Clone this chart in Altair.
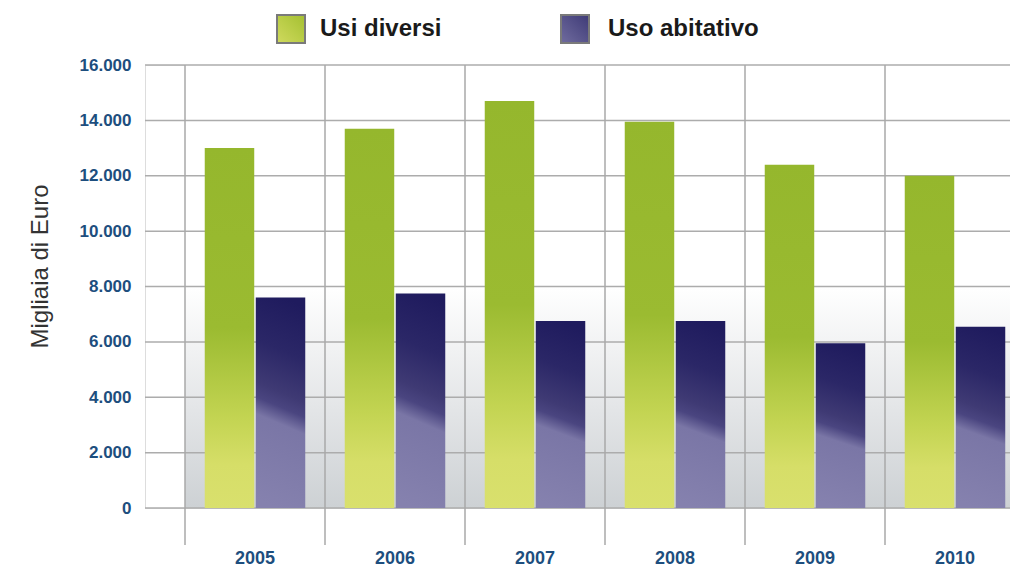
import altair as alt
import pandas as pd

# Canoni per anno (migliaia di euro)
years = ["2005", "2006", "2007", "2008", "2009", "2010"]
usi_diversi = [13000, 13700, 14700, 13950, 12400, 12000]
uso_abitativo = [7600, 7750, 6750, 6750, 5950, 6550]
series = ["Usi diversi", "Uso abitativo"]
y_ticks = [0, 2000, 4000, 6000, 8000, 10000, 12000, 14000, 16000]

FONT = "Liberation Sans"
W, H = 865, 443

bars = pd.DataFrame(
    [{"year": y, "series": series[0], "value": v} for y, v in zip(years, usi_diversi)]
    + [{"year": y, "series": series[1], "value": v} for y, v in zip(years, uso_abitativo)]
)
grid = pd.DataFrame({"value": y_ticks})
year_df = pd.DataFrame({"year": years})
legend_df = pd.DataFrame({"series": series})

x_scale = alt.Scale(domain=years, range=[40, 880], paddingInner=0, paddingOuter=0)
y_scale = alt.Scale(domain=[0, 16000], nice=False)

x_axis = alt.Axis(
    title=None, labelAngle=0, ticks=False, domain=False, grid=False,
    labelFont=FONT, labelFontSize=18, labelFontWeight="bold",
    labelColor="#1d4e7e", labelPadding=41,
)
y_axis = alt.Axis(
    values=y_ticks, ticks=False, domain=False, grid=False,
    labelExpr="replace(format(datum.value, ','), ',', '.')",
    labelFont=FONT, labelFontSize=17, labelFontWeight="bold",
    labelColor="#1d4e7e", labelPadding=14,
    title="Migliaia di Euro", titleFont=FONT, titleFontSize=24,
    titleFontWeight="normal", titleColor="#333333",
    titleX=-105, titleY=201, titleAlign="center", titleBaseline="middle",
)

x_enc = alt.X("year:N", scale=x_scale, axis=x_axis)
y_enc = alt.Y("value:Q", scale=y_scale, axis=y_axis)


def lin(stops, x1=0, y1=0, x2=0, y2=1):
    return alt.Gradient(
        gradient="linear",
        stops=[alt.GradientStop(color=c, offset=o) for o, c in stops],
        x1=x1, y1=y1, x2=x2, y2=y2,
    )


bg_fill = lin([(0, "#ffffff"), (0.5, "#ffffff"), (0.78, "#e3e5e7"), (1, "#cdd1d4")])
green_fill = lin([(0, "#95b72d"), (0.5, "#9bbb31"), (0.75, "#c3d452"),
                  (0.88, "#d6de68"), (1, "#d9e06d")])
purple_fill = lin([(0, "#1f1b5e"), (0.25, "#2b2767"), (0.45, "#3f3a74"),
                   (0.52, "#4a4580"), (0.6, "#7a76a6"), (1, "#8581ae")],
                  x1=0.55, y1=0, x2=0.45, y2=1)
green_key = lin([(0, "#a4c031"), (1, "#d0da5e")], x1=1, y1=0, x2=0, y2=1)
purple_key = lin([(0, "#3e3a77"), (1, "#706c9e")], x1=1, y1=0, x2=0, y2=1)

background = alt.Chart(alt.Data(values=[{}])).mark_rect(fill=bg_fill).encode(
    x=alt.value(40), x2=alt.value(W), y=alt.value(0), y2=alt.value(H)
)

h_lines = alt.Chart(grid).mark_rule(color="#acacac", strokeWidth=1.5).encode(
    y=y_enc, x=alt.value(0), x2=alt.value(W)
)

v_lines = alt.Chart(year_df).mark_rule(color="#a8a8a8", strokeWidth=1.5).encode(
    x=alt.X("year:N", scale=x_scale, axis=x_axis, bandPosition=0),
    y=alt.value(0), y2=alt.value(H + 37),
)

offset = alt.XOffset("series:N", scale=alt.Scale(domain=series, paddingInner=0.03, paddingOuter=0.387))

green_bars = alt.Chart(bars).transform_filter(
    alt.datum.series == series[0]
).mark_bar(fill=green_fill).encode(x=x_enc, xOffset=offset, y=y_enc)

purple_bars = alt.Chart(bars).transform_filter(
    alt.datum.series == series[1]
).mark_bar(fill=purple_fill).encode(x=x_enc, xOffset=offset, y=y_enc)


def key(name, fill, sx, tx):
    sq = alt.Chart(legend_df).transform_filter(alt.datum.series == name).mark_square(
        fill=fill, stroke="#7a7a7a", strokeWidth=2, size=784, opacity=1
    ).encode(x=alt.value(sx), y=alt.value(-36))
    tx_mark = alt.Chart(legend_df).transform_filter(alt.datum.series == name).mark_text(
        align="left", baseline="middle", font=FONT, fontSize=24,
        fontWeight="bold", color="#1a1a1a",
    ).encode(x=alt.value(tx), y=alt.value(-36), text="series:N")
    return sq + tx_mark


chart = alt.layer(
    background, h_lines, v_lines, green_bars, purple_bars,
    key(series[0], green_key, 146, 175),
    key(series[1], purple_key, 430, 463),
).properties(
    width=W, height=H,
    padding={"left": 145, "top": 65, "right": 0, "bottom": 60},
    autosize="none",
).configure_view(stroke=None).configure(background="white")

chart.save("out.html", embed_options={"renderer": "svg", "actions": False})
